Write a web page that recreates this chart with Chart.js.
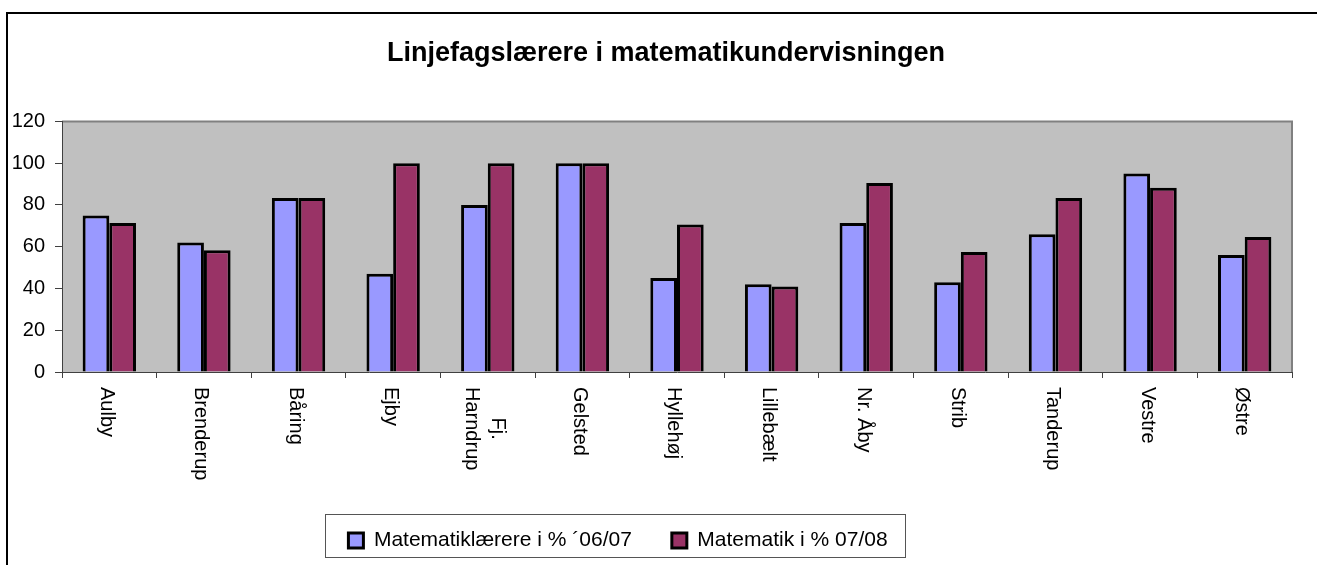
<!DOCTYPE html>
<html>
<head>
<meta charset="utf-8">
<script src="https://cdn.jsdelivr.net/npm/chart.js@4/dist/chart.umd.min.js"></script>
<style>
    body { margin: 0; background: #fff; }
    #wrap { position: relative; width: 1317px; height: 565px; }
</style>
</head>
<body>
<div id="wrap"><canvas id="res"></canvas></div>
<script>
var skoler = ["Aulby", "Brenderup", "Båring", "Ejby", ["Fj.", "Harndrup"], "Gelsted", "Hyllehøj",
    "Lillebælt", "Nr. Åby", "Strib", "Tanderup", "Vestre", "Østre"];
var laerere0607 = [75, 62, 83.3, 47, 80, 100, 45, 42, 71.4, 43, 66, 95, 56];
var matematik0708 = [71.4, 58.3, 83.3, 100, 100, 100, 70.6, 41, 90.5, 57.5, 83.3, 88.2, 64.7];
var serier = ["Matematiklærere i % ´06/07", "Matematik i % 07/08"];
var yTicks = [0, 20, 40, 60, 80, 100, 120];

(function () {

    var font = "'Liberation Sans', Arial, sans-serif";
    var ctx = document.getElementById("res").getContext('2d');

    var frame = {
        id: 'frame',
        afterLayout: function (chart) {
            // excel puts title and legend a bit off centre
            chart.titleBlock.left += 20;
            chart.titleBlock.right += 20;
            chart.legend.left -= 28;
            chart.legend.right -= 28;
        },
        beforeDraw: function (chart) {
            var c = chart.ctx, a = chart.chartArea;
            c.save();
            c.strokeStyle = '#000';
            c.lineWidth = 2;
            c.beginPath();
            c.moveTo(7, chart.height + 5);
            c.lineTo(7, 13);
            c.lineTo(chart.width + 5, 13);
            c.stroke();

            c.fillStyle = '#C0C0C0';
            c.fillRect(a.left, a.top, a.right - a.left, a.bottom - a.top);
            c.strokeStyle = '#808080';
            c.lineWidth = 2;
            c.beginPath();
            c.moveTo(a.left, a.top);
            c.lineTo(a.right, a.top);
            c.lineTo(a.right, a.bottom);
            c.stroke();
            c.restore();
        },
        afterDraw: function (chart) {
            var c = chart.ctx;
            var xs = chart.scales.x;
            c.save();
            c.font = '20px ' + font;
            c.fillStyle = '#000';
            c.textAlign = 'left';
            c.textBaseline = 'middle';
            var lineH = 26;
            for (var i = 0; i < skoler.length; i++) {
                var lines = Array.isArray(skoler[i]) ? skoler[i] : [skoler[i]];
                var maxW = 0;
                lines.forEach(function (l) { maxW = Math.max(maxW, c.measureText(l).width); });
                var x = xs.getPixelForValue(i) - 3;
                for (var j = 0; j < lines.length; j++) {
                    var lx = x + (lines.length - 1) / 2 * lineH - j * lineH;
                    var ly = xs.top + 15 + (maxW - c.measureText(lines[j]).width) / 2;
                    c.save();
                    c.translate(lx, ly);
                    c.rotate(Math.PI / 2);
                    c.fillText(lines[j], 0, 0);
                    c.restore();
                }
            }

            var hb = chart.legend.legendHitBoxes;
            if (hb && hb.length) {
                var first = hb[0], last = hb[hb.length - 1];
                var mid = first.top + first.height / 2;
                c.strokeStyle = '#555';
                c.lineWidth = 1;
                c.strokeRect(Math.round(first.left - 23) + 0.5, Math.round(mid - 27) + 0.5,
                    Math.round(last.left + last.width + 18 - (first.left - 23)), 43);
            }
            c.restore();
        }
    };

    var options = {
        type: 'bar',
        data: {
            labels: skoler,
            datasets: [{
                label: serier[0],
                data: laerere0607,
                backgroundColor: '#9999FF',
                borderColor: '#000',
                borderWidth: 3
            }, {
                label: serier[1],
                data: matematik0708,
                backgroundColor: '#993366',
                borderColor: '#000',
                borderWidth: 3
            }]
        },
        options: {
            responsive: true,
            maintainAspectRatio: false,
            animation: false,
            categoryPercentage: 0.564,
            barPercentage: 1,
            layout: { padding: { left: 0, right: 25, top: 0, bottom: 4 } },
            plugins: {
                tooltip: { enabled: false },
                title: {
                    display: true,
                    text: 'Linjefagslærere i matematikundervisningen',
                    color: '#000',
                    font: { family: font, size: 27, weight: 'bold' },
                    padding: { top: 37, bottom: 52 }
                },
                legend: {
                    display: true,
                    position: 'bottom',
                    labels: {
                        color: '#000',
                        font: { family: font, size: 21 },
                        boxWidth: 15,
                        boxHeight: 15,
                        padding: 40
                    }
                }
            },
            scales: {
                x: {
                    grid: {
                        offset: true,
                        drawOnChartArea: false,
                        drawTicks: true,
                        tickLength: 6,
                        color: '#404040'
                    },
                    border: { color: '#404040', width: 1 },
                    ticks: { display: false },
                    afterFit: function (scale) { scale.height = 118; }
                },
                y: {
                    min: 0,
                    max: 120,
                    afterBuildTicks: function (scale) {
                        scale.ticks = yTicks.map(function (v) { return { value: v }; });
                    },
                    grid: {
                        drawOnChartArea: false,
                        drawTicks: true,
                        tickLength: 7,
                        color: '#404040'
                    },
                    border: { color: '#404040', width: 1 },
                    ticks: {
                        color: '#000',
                        padding: 10,
                        font: { family: font, size: 20 }
                    },
                    afterFit: function (scale) { scale.width = 62; }
                }
            }
        },
        plugins: [frame]
    };

    var myChart = new Chart(ctx, options);

})();
</script>
</body>
</html>
